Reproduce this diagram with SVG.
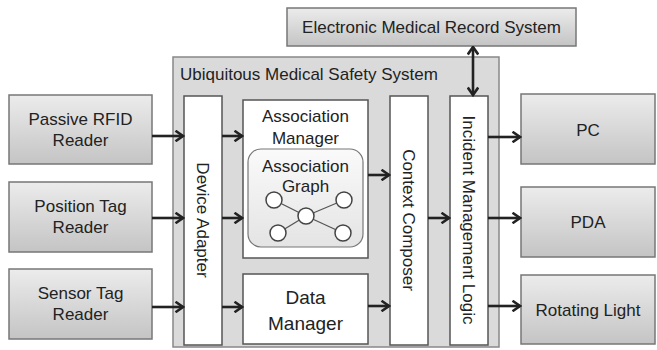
<svg xmlns="http://www.w3.org/2000/svg" width="657" height="350" viewBox="0 0 657 350">
<defs>
<linearGradient id="g" x1="0" y1="0" x2="0" y2="1">
<stop offset="0" stop-color="#ececec"/>
<stop offset="1" stop-color="#c4c4c4"/>
</linearGradient>
<linearGradient id="g2" x1="0" y1="0" x2="0" y2="1">
<stop offset="0" stop-color="#fafafa"/>
<stop offset="1" stop-color="#e4e4e4"/>
</linearGradient>
<marker id="ah" viewBox="0 0 12 12" refX="10.5" refY="6" markerWidth="12" markerHeight="12" markerUnits="userSpaceOnUse" orient="auto-start-reverse">
<polyline points="3,0.8 10.5,6 3,11.2" fill="none" stroke="#222" stroke-width="2.6"/>
</marker>
</defs>
<style>
.ext{fill:url(#g);stroke:#777;stroke-width:1.5}
.in{fill:#fff;stroke:#555;stroke-width:1.5}
text{font-family:"Liberation Sans",Arial,sans-serif;fill:#222;font-size:17px;text-anchor:middle}
.c{stroke:#222;stroke-width:2.6;fill:none;marker-end:url(#ah)}
.gl{stroke:#555;stroke-width:1.3}
.gn{fill:#fff;stroke:#444;stroke-width:1.5}
</style>
<rect width="657" height="350" fill="#fff"/>
<g id="emr"><rect class="ext" x="287" y="8" width="289" height="38"/><text x="431.5" y="33">Electronic Medical Record System</text></g>
<g id="umss"><rect x="173" y="57" width="326" height="290" fill="#dadada" stroke="#888" stroke-width="1.5"/><text x="180" y="80" style="text-anchor:start">Ubiquitous Medical Safety System</text></g>
<g id="rfid"><rect class="ext" x="9" y="95" width="143" height="69"/><text x="80.5" y="125">Passive RFID</text><text x="80.5" y="146">Reader</text></g>
<g id="pos"><rect class="ext" x="9" y="182" width="143" height="70"/><text x="80.5" y="212">Position Tag</text><text x="80.5" y="233">Reader</text></g>
<g id="sensor"><rect class="ext" x="9" y="269" width="143" height="70"/><text x="80.5" y="299">Sensor Tag</text><text x="80.5" y="320">Reader</text></g>
<g id="da"><rect class="in" x="184" y="96" width="38" height="249"/><text transform="translate(203,220) rotate(90)" y="6">Device Adapter</text></g>
<g id="am"><rect class="in" x="243" y="100" width="125" height="158"/><text x="305.5" y="122">Association</text><text x="305.5" y="144">Manager</text></g>
<g id="ag"><rect x="248" y="149" width="115" height="98" rx="13" fill="url(#g2)" stroke="#777" stroke-width="1.2"/><text x="305.5" y="172">Association</text><text x="305.5" y="192">Graph</text>
<line class="gl" x1="274" y1="200" x2="306" y2="216"/><line class="gl" x1="344" y1="200" x2="306" y2="216"/><line class="gl" x1="278" y1="233" x2="306" y2="216"/><line class="gl" x1="343" y1="233" x2="306" y2="216"/>
<circle class="gn" cx="274" cy="200" r="8"/><circle class="gn" cx="344" cy="200" r="8"/><circle class="gn" cx="306" cy="216" r="8"/><circle class="gn" cx="278" cy="233" r="8"/><circle class="gn" cx="343" cy="233" r="8"/></g>
<g id="dm"><rect class="in" x="243" y="274" width="125" height="70"/><text x="305.5" y="304" style="font-size:19px">Data</text><text x="305.5" y="330" style="font-size:19px">Manager</text></g>
<g id="cc"><rect class="in" x="390" y="96" width="38" height="249"/><text transform="translate(409,220) rotate(90)" y="6">Context Composer</text></g>
<g id="iml"><rect class="in" x="450" y="96" width="38" height="249"/><text transform="translate(469,220) rotate(90)" y="6">Incident Management Logic</text></g>
<g id="pc"><rect class="ext" x="521" y="94" width="134" height="70"/><text x="588" y="136">PC</text></g>
<g id="pda"><rect class="ext" x="521" y="187" width="134" height="70"/><text x="588" y="228">PDA</text></g>
<g id="rl"><rect class="ext" x="521" y="275" width="134" height="69"/><text x="588" y="316">Rotating Light</text></g>
<g id="connectors">
<line class="c" x1="152" y1="136" x2="183" y2="136"/>
<line class="c" x1="152" y1="218" x2="183" y2="218"/>
<line class="c" x1="152" y1="307" x2="183" y2="307"/>
<line class="c" x1="222" y1="136" x2="242" y2="136"/>
<line class="c" x1="222" y1="218" x2="242" y2="218"/>
<line class="c" x1="222" y1="307" x2="242" y2="307"/>
<line class="c" x1="368" y1="175" x2="389" y2="175"/>
<line class="c" x1="368" y1="306" x2="389" y2="306"/>
<line class="c" x1="428" y1="218" x2="449" y2="218"/>
<line class="c" x1="488" y1="137" x2="520" y2="137"/>
<line class="c" x1="488" y1="218" x2="520" y2="218"/>
<line class="c" x1="488" y1="306" x2="520" y2="306"/>
<line class="c" x1="473" y1="47" x2="473" y2="95" style="marker-start:url(#ah)"/>
</g>
</svg>
